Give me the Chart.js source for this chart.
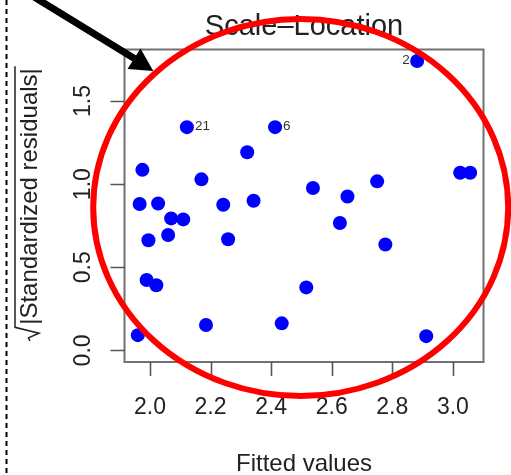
<!DOCTYPE html>
<html><head><meta charset="utf-8">
<script src="https://cdn.jsdelivr.net/npm/chart.js@4/dist/chart.umd.min.js"></script>
<style>html,body{margin:0;padding:0;background:#fff}#wrap{width:511px;height:475px;position:relative}</style>
</head><body><div id="wrap"><canvas id="c" width="511" height="475"></canvas></div>
<script>
const fittedValues = [2.882, 2.122, 2.413, 2.321, 1.975, 2.170, 1.966, 2.027, 2.242, 2.342, 2.070, 2.110, 2.060, 1.995, 2.258, 1.989, 2.021, 2.516, 2.185, 2.435, 1.960, 2.912, 2.627, 2.777, 2.538, 2.652, 2.750, 3.024, 3.057];
const sqrtStdResiduals = [1.741, 1.343, 1.343, 1.192, 1.086, 1.029, 0.881, 0.884, 0.876, 0.900, 0.794, 0.788, 0.694, 0.663, 0.669, 0.424, 0.392, 0.379, 0.153, 0.163, 0.092, 0.086, 0.766, 0.637, 0.977, 0.926, 1.017, 1.069, 1.069];
const pointLabels = ['2', '21', '6', '', '', '', '', '', '', '', '', '', '', '', '', '', '', '', '', '', '', '', '', '', '', '', '', '', ''];
const xTicks = [2.0, 2.2, 2.4, 2.6, 2.8, 3.0];
const yTicks = [0.0, 0.5, 1.0, 1.5];
const xRange = [1.916, 3.101];
const yRange = [-0.0696, 1.81];
const titleText = 'Scale\u2013Location';
const xTitle = 'Fitted values';
const yTitle = '|Standardized residuals|';

const FONT = '"Liberation Sans", Arial, Helvetica, sans-serif';
const TEXT = '#222';

const overlay = {
  id: 'overlay',
  beforeDatasetsDraw(chart) {
    const ctx = chart.ctx, a = chart.chartArea;
    const xs = chart.scales.x, ys = chart.scales.y;
    ctx.save();
    ctx.strokeStyle = '#707070';
    ctx.lineWidth = 2;
    ctx.strokeRect(a.left, a.top, a.right - a.left, a.bottom - a.top);
    ctx.strokeStyle = '#555';
    ctx.lineWidth = 1.6;
    ctx.beginPath();
    xTicks.forEach(v => { const px = Math.round(xs.getPixelForValue(v)) + 0.5; ctx.moveTo(px, a.bottom); ctx.lineTo(px, a.bottom + 14); });
    yTicks.forEach(v => { const py = Math.round(ys.getPixelForValue(v)) + 0.5; ctx.moveTo(a.left, py); ctx.lineTo(a.left - 14, py); });
    ctx.stroke();
    ctx.fillStyle = TEXT;
    ctx.font = '23px ' + FONT;
    ctx.textAlign = 'center';
    ctx.textBaseline = 'alphabetic';
    xTicks.forEach(v => ctx.fillText(v.toFixed(1), xs.getPixelForValue(v), 414));
    yTicks.forEach(v => {
      ctx.save();
      ctx.translate(90, ys.getPixelForValue(v));
      ctx.rotate(-Math.PI / 2);
      ctx.fillText(v.toFixed(1), 0, 0);
      ctx.restore();
    });
    ctx.font = '29px ' + FONT;
    ctx.fillText(titleText, (a.left + a.right) / 2, 35);
    ctx.font = '24px ' + FONT;
    ctx.fillText(xTitle, (a.left + a.right) / 2, 471);
    ctx.save();
    ctx.translate(37, 203.5);
    ctx.rotate(-Math.PI / 2);
    ctx.textAlign = 'left';
    const tw = ctx.measureText(yTitle).width;
    const radW = 16;
    const W = radW + tw + 2;
    const u0 = -W / 2;
    ctx.fillText(yTitle, u0 + radW, 0);
    ctx.strokeStyle = TEXT;
    ctx.lineWidth = 1.5;
    ctx.beginPath();
    ctx.moveTo(u0, -7);
    ctx.lineTo(u0 + 3, -8.5);
    ctx.lineTo(u0 + 7.5, 2);
    ctx.lineTo(u0 + 13.5, -22);
    ctx.lineTo(u0 + W, -22);
    ctx.stroke();
    ctx.restore();
    ctx.restore();
  },
  afterDatasetsDraw(chart) {
    const ctx = chart.ctx;
    const xs = chart.scales.x, ys = chart.scales.y;
    const mid = (xRange[0] + xRange[1]) / 2;
    ctx.save();
    ctx.fillStyle = '#333';
    ctx.font = '13.5px ' + FONT;
    ctx.textBaseline = 'middle';
    pointLabels.forEach((lab, i) => {
      if (!lab) return;
      const px = xs.getPixelForValue(fittedValues[i]);
      const py = ys.getPixelForValue(sqrtStdResiduals[i]);
      if (fittedValues[i] < mid) { ctx.textAlign = 'left'; ctx.fillText(lab, px + 8, py - 1); }
      else { ctx.textAlign = 'right'; ctx.fillText(lab, px - 7.5, py - 1); }
    });
    ctx.strokeStyle = '#000';
    ctx.lineWidth = 2;
    ctx.setLineDash([5, 4]);
    ctx.beginPath();
    ctx.moveTo(6.5, 0);
    ctx.lineTo(6.5, 475);
    ctx.stroke();
    ctx.setLineDash([]);
    ctx.strokeStyle = '#ff0000';
    ctx.lineWidth = 6;
    ctx.beginPath();
    ctx.ellipse(300.7, 207.5, 207.5, 188.5, 0, 0, Math.PI * 2);
    ctx.stroke();
    ctx.strokeStyle = '#000';
    ctx.fillStyle = '#000';
    ctx.lineWidth = 7;
    ctx.beginPath();
    ctx.moveTo(22.7, -10);
    ctx.lineTo(136, 59.5);
    ctx.stroke();
    ctx.beginPath();
    ctx.moveTo(153.3, 71);
    ctx.lineTo(127.5, 69);
    ctx.lineTo(140.5, 48.5);
    ctx.closePath();
    ctx.fill();
    ctx.restore();
  }
};

new Chart(document.getElementById('c'), {
  type: 'scatter',
  data: {
    datasets: [{
      data: fittedValues.map((x, i) => ({ x: x, y: sqrtStdResiduals[i] })),
      backgroundColor: '#0000ff',
      borderWidth: 0,
      pointRadius: 7,
      pointHoverRadius: 7
    }]
  },
  options: {
    responsive: false,
    animation: false,
    devicePixelRatio: 1,
    layout: { padding: { left: 124.5, top: 49.5, right: 27.5, bottom: 113 } },
    scales: {
      x: { type: 'linear', min: xRange[0], max: xRange[1], display: false },
      y: { type: 'linear', min: yRange[0], max: yRange[1], display: false }
    },
    plugins: { legend: { display: false }, tooltip: { enabled: false }, title: { display: false } },
    events: []
  },
  plugins: [overlay]
});
</script>
</body></html>
